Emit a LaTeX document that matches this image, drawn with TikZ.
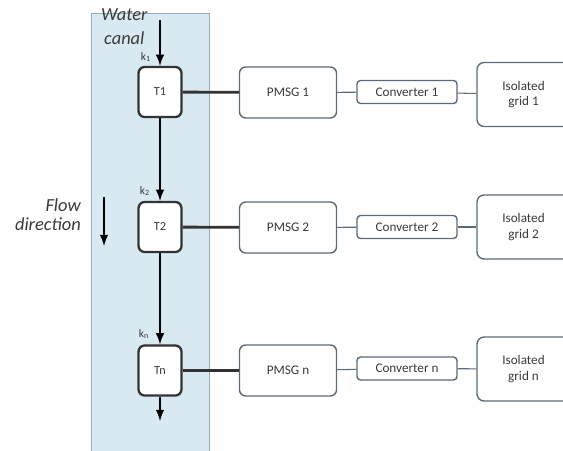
\documentclass[tikz,border=0pt]{standalone}
\usepackage{fontspec}
\setmainfont{Carlito}
\usepackage{tikz}
\definecolor{canal}{HTML}{D8E9F1}
\definecolor{canaledge}{HTML}{9AABB5}
\definecolor{boxedge}{HTML}{5C6B7C}
\definecolor{txt}{HTML}{3A3A3A}
\tikzset{
  tbox/.style={draw=black!80,line width=1.3pt,rounded corners=3.5pt,fill=white,minimum width=0.86cm,minimum height=1cm,font=\fontsize{7}{8}\selectfont,text=txt},
  pmsgbox/.style={draw=boxedge,line width=0.8pt,rounded corners=3.5pt,fill=white,minimum width=1.94cm,minimum height=1.02cm,font=\fontsize{7.5}{9}\selectfont,text=txt},
  convbox/.style={draw=boxedge,line width=0.8pt,rounded corners=2pt,fill=white,minimum width=2cm,minimum height=0.46cm,font=\fontsize{7.5}{9}\selectfont,text=txt},
  gridbox/.style={draw=boxedge,line width=0.8pt,rounded corners=4pt,fill=white,minimum width=1.86cm,minimum height=1.28cm,font=\fontsize{7.5}{9}\selectfont,text=txt,align=center},
  klabel/.style={font=\fontsize{6.5}{7}\selectfont,text=txt},
  side/.style={font=\fontsize{10.5}{12}\selectfont\itshape,text=txt}
}
\begin{document}
\begin{tikzpicture}[x=0.02cm,y=-0.02cm]
\clip (0,0) rectangle (563,450);
\fill[white] (0,0) rectangle (563,450);
% water canal
\fill[canal] (91,13) rectangle (209,452);
\draw[canaledge,line width=0.5pt] (91,452)--(91,13)--(209,13)--(209,452);
\node[side,anchor=west] (water)at(95,15){Water};
\node[side,anchor=west] (canal)at(98,38){canal};
\node[side,anchor=east] (flow)at(87,205){Flow};
\node[side,anchor=east] (dir)at(87,224){direction};
\coordinate (f1)at(104,197);
\coordinate (f2)at(104,246);
\draw[->,>=latex,line width=1.2pt] (f1)--(f2);
% turbines
\node[tbox] (T1)at(160,92){T1};
\node[tbox] (T2)at(160,227){T2};
\node[tbox] (Tn)at(160,370.5){Tn};
\coordinate (in)at(160,20);
\coordinate (out)at(160,421);
\draw[->,>=latex,line width=1.2pt] (in)--(T1.north);
\draw[->,>=latex,line width=1.2pt] (T1.south)--(T2.north);
\draw[->,>=latex,line width=1.2pt] (T2.south)--(Tn.north);
\draw[->,>=latex,line width=1.2pt] (Tn.south)--(out);
\node[klabel] (k1)at(146,57){k\textsubscript{1}};
\node[klabel] (k2)at(145,191){k\textsubscript{2}};
\node[klabel] (kn)at(144,334){k\textsubscript{n}};
% generators
\node[pmsgbox] (P1)at(288,92.5){PMSG 1};
\node[pmsgbox] (P2)at(288,227.5){PMSG 2};
\node[pmsgbox] (Pn)at(288,370.5){PMSG n};
\draw[black!80,line width=1.6pt] (T1)--(P1);
\draw[black!80,line width=1.6pt] (T2)--(P2);
\draw[black!80,line width=1.6pt] (Tn)--(Pn);
% converters
\node[convbox] (C1)at(407,92){Converter 1};
\node[convbox] (C2)at(407,227){Converter 2};
\node[convbox] (Cn)at(407,368.5){Converter n};
\draw[boxedge,line width=0.6pt] (P1)--(C1);
\draw[boxedge,line width=0.6pt] (P2)--(C2);
\draw[boxedge,line width=0.6pt] (Pn)--(Cn);
% isolated grids
\node[gridbox] (G1)at(523.5,94.5){Isolated\\grid 1};
\node[gridbox] (G2)at(523.5,227){Isolated\\grid 2};
\node[gridbox] (Gn)at(523.5,369){Isolated\\grid n};
\draw[boxedge,line width=0.6pt] (C1)--(G1);
\draw[boxedge,line width=0.6pt] (C2)--(G2);
\draw[boxedge,line width=0.6pt] (Cn)--(Gn);
\end{tikzpicture}
\end{document}
